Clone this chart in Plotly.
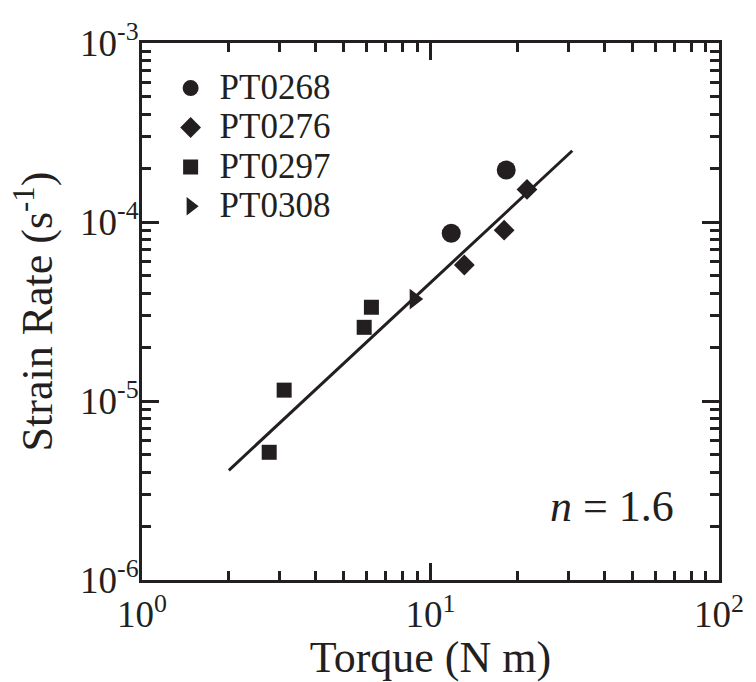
import plotly.graph_objects as go

# Data
pt0268_torque = [11.8, 18.3]
pt0268_rate = [8.65e-5, 1.95e-4]
pt0276_torque = [13.1, 18.0, 21.6]
pt0276_rate = [5.75e-5, 9.0e-5, 1.52e-4]
pt0297_torque = [2.76, 3.11, 5.89, 6.24]
pt0297_rate = [5.17e-6, 1.15e-5, 2.58e-5, 3.34e-5]
pt0308_torque = [8.78]
pt0308_rate = [3.71e-5]
fit_torque = [2.0, 31.0]
fit_rate = [4.1e-6, 2.5e-4]

x_tickvals = [1, 10, 100]
x_ticktext = ["10<sup>0</sup>", "10<sup>1</sup>", "10<sup>2</sup>"]
x_minor_vals = [m * d for d in (1, 10) for m in range(2, 10)]
y_tickvals = [1e-6, 1e-5, 1e-4, 1e-3]
y_ticktext = ["10<sup>-6</sup>", "10<sup>-5</sup>", "10<sup>-4</sup>", "10<sup>-3</sup>"]
y_minor_vals = [m * d for d in (1e-6, 1e-5, 1e-4) for m in range(2, 10)]

INK = "#231f20"
FONT = "Liberation Serif"


def legend_label(s):
    return "<span style='font-size:35px'>" + s + "</span>"


fig = go.Figure()
fig.add_trace(go.Scatter(x=fit_torque, y=fit_rate, mode="lines",
                         line=dict(color=INK, width=3), showlegend=False))
fig.add_trace(go.Scatter(x=pt0268_torque, y=pt0268_rate, mode="markers", name=legend_label("PT0268"),
                         marker=dict(symbol="circle", size=19, color=INK)))
fig.add_trace(go.Scatter(x=pt0276_torque, y=pt0276_rate, mode="markers", name=legend_label("PT0276"),
                         marker=dict(symbol="diamond", size=16, color=INK)))
fig.add_trace(go.Scatter(x=pt0297_torque, y=pt0297_rate, mode="markers", name=legend_label("PT0297"),
                         marker=dict(symbol="square", size=15, color=INK)))
fig.add_trace(go.Scatter(x=pt0308_torque, y=pt0308_rate, mode="markers", name=legend_label("PT0308"),
                         marker=dict(symbol="triangle-right", size=18, color=INK)))

axis_common = dict(
    type="log", showgrid=False, zeroline=False,
    showline=True, linecolor=INK, linewidth=3, mirror="ticks",
    ticks="inside", ticklen=17, tickwidth=2.5, tickcolor=INK,
    tickfont=dict(family=FONT, size=37, color=INK),
)

fig.update_layout(
    width=756, height=682,
    margin=dict(l=142, r=26, t=43, b=102),
    paper_bgcolor="white", plot_bgcolor="white",
    font=dict(family=FONT, color=INK),
    xaxis=dict(axis_common, range=[0, 2], tickmode="array",
               tickvals=x_tickvals, ticktext=x_ticktext,
               minor=dict(tickmode="array", tickvals=x_minor_vals, ticks="inside",
                          ticklen=9, tickwidth=2.5, tickcolor=INK, showgrid=False),
               title=dict(text="Torque (N m)", font=dict(family=FONT, size=44, color=INK), standoff=2)),
    yaxis=dict(axis_common, range=[-6, -3], tickmode="array",
               tickvals=y_tickvals, ticktext=y_ticktext, ticklabelstandoff=-7,
               minor=dict(tickmode="array", tickvals=y_minor_vals, ticks="inside",
                          ticklen=9, tickwidth=2.5, tickcolor=INK, showgrid=False),
               title=dict(text="Strain Rate (s<sup>-1</sup>)", font=dict(family=FONT, size=44, color=INK), standoff=14)),
    legend=dict(x=0.034, y=0.962, xanchor="left", yanchor="top",
                font=dict(family=FONT, size=28, color=INK),
                bgcolor="rgba(0,0,0,0)", itemwidth=48),
    annotations=[dict(x=0.926, y=0.136, xref="paper", yref="paper", xanchor="right", yanchor="middle",
                      text="<i>n</i> = 1.6", showarrow=False,
                      font=dict(family=FONT, size=44, color=INK))],
)

fig.write_html("out.html")
